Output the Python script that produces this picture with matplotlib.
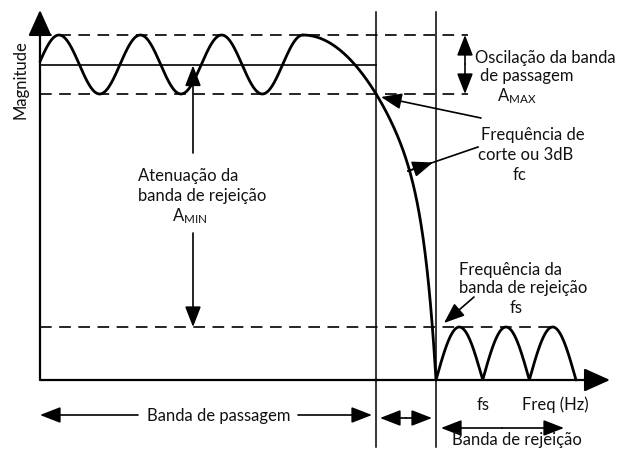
import numpy as np
import matplotlib
matplotlib.use("Agg")
import matplotlib.pyplot as plt

plt.rcParams['font.family'] = ['Lato', 'DejaVu Sans']
plt.rcParams['mathtext.fontset'] = 'custom'
plt.rcParams['mathtext.rm'] = 'Lato'
plt.rcParams['mathtext.it'] = 'Lato'

# ---- schematic data (canvas units, y grows downward) ----
axis_origin = [40, 380]
axis_ends = [610, 10]
level_ripple_top = 35
level_ripple_mid = 64.5
level_ripple_bot = 94
level_stop = 327
ripple_peaks = [59, 140.3, 221.7, 303]
cutoff_x = 376
stop_x = 436
stop_zeros = [436, 483, 529.5, 576]
rolloff_coef = [195, 150]   # quadratic + steep term
dash_ends = [468, 468, 552]

text_color = '#111111'
fs = 12

fig = plt.figure(figsize=(6.19, 4.5), dpi=100)
ax = fig.add_axes([0, 0, 1, 1])
ax.set_xlim(0, 619)
ax.set_ylim(450, 0)
ax.axis('off')

# ---- passband ripple ----
period = (ripple_peaks[-1] - ripple_peaks[0]) / (len(ripple_peaks) - 1)
amp = (level_ripple_bot - level_ripple_top) / 2
x1 = np.linspace(axis_origin[0], ripple_peaks[-1], 400)
y1 = level_ripple_mid - amp * np.cos(2 * np.pi * (x1 - ripple_peaks[0]) / period)
# ---- roll-off ----
x2 = np.linspace(ripple_peaks[-1], stop_x, 400)
t = (x2 - ripple_peaks[-1]) / (stop_x - ripple_peaks[-1])
y2 = level_ripple_top + rolloff_coef[0] * t**2 + rolloff_coef[1] * t**12
# ---- stopband lobes ----
x3 = np.linspace(stop_zeros[0], stop_zeros[-1], 600)
lobe_w = (stop_zeros[-1] - stop_zeros[0]) / (len(stop_zeros) - 1)
y3 = axis_origin[1] - (axis_origin[1] - level_stop) * np.abs(np.sin(np.pi * (x3 - stop_zeros[0]) / lobe_w))

curve_kw = dict(color='black', lw=2.0, solid_capstyle='round')
ax.plot(x1, y1, **curve_kw)
ax.plot(x2, y2, **curve_kw)
ax.plot(x3, y3, **curve_kw)

# ---- reference lines ----
dash_kw = dict(color='black', lw=1.2, dashes=(7, 4.5))
ax.plot([axis_origin[0], dash_ends[0]], [level_ripple_top] * 2, **dash_kw)
ax.plot([axis_origin[0], dash_ends[1]], [level_ripple_bot] * 2, **dash_kw)
ax.plot([axis_origin[0], dash_ends[2]], [level_stop] * 2, **dash_kw)
ax.plot([axis_origin[0], cutoff_x], [level_ripple_mid] * 2, color='black', lw=1.2)
ax.plot([cutoff_x, cutoff_x], [12, 447], color='black', lw=1.1)
ax.plot([stop_x, stop_x], [12, 447], color='black', lw=1.1)

# ---- axes ----
def arrow(p0, p1, style='-|>', lw=1.2, hl=0.9, hw=0.35, ms=14):
    ax.annotate('', xy=p1, xytext=p0,
                arrowprops=dict(arrowstyle=f'{style},head_length={hl},head_width={hw}',
                                lw=lw, color='black', shrinkA=0, shrinkB=0,
                                mutation_scale=ms))

arrow(axis_origin, (axis_origin[0], axis_ends[1]), lw=1.6, hl=1.0, hw=0.45, ms=16)
arrow(axis_origin, (axis_ends[0], axis_origin[1]), lw=1.6, hl=1.0, hw=0.45, ms=16)

# ---- annotation arrows ----
arrow((193, 153), (193, level_ripple_mid + 1))
arrow((193, 233), (193, level_stop))
arrow((465, 64), (465, level_ripple_top), hl=0.9, hw=0.35)
arrow((465, 64), (465, level_ripple_bot), hl=0.9, hw=0.35)
arrow((481, 118), (381, 97))
ax.plot([478, 408], [147, 171], color='black', lw=1.2)
arrow((408, 171), (433, 162.5))
arrow((474, 297), (444, 323))

# bottom band arrows
arrow((138, 415), (40, 415))
arrow((298, 415), (372, 415))
arrow((406, 418), (380, 418))
arrow((406, 418), (432, 418))
arrow((502, 428), (441, 428))
arrow((502, 428), (564, 428))

# ---- texts ----
tk = dict(fontsize=fs, color=text_color)
ax.text(20, 80, 'Magnitude', rotation=90, ha='center', va='center', **tk)
ax.text(138, 176, 'Atenuação da', ha='left', va='center', **tk)
ax.text(138, 196, 'banda de rejeição', ha='left', va='center', **tk)
ax.text(172, 216, r'$\mathrm{A}_{\mathrm{MIN}}$', ha='left', va='center', **tk)
ax.text(475, 58, 'Oscilação da banda', ha='left', va='center', **tk)
ax.text(480, 76, 'de passagem', ha='left', va='center', **tk)
ax.text(497, 96, r'$\mathrm{A}_{\mathrm{MAX}}$', ha='left', va='center', **tk)
ax.text(481, 135, 'Frequência de', ha='left', va='center', **tk)
ax.text(478, 155, 'corte ou 3dB', ha='left', va='center', **tk)
ax.text(520, 175, 'fc', ha='center', va='center', **tk)
ax.text(459, 270, 'Frequência da', ha='left', va='center', **tk)
ax.text(459, 288, 'banda de rejeição', ha='left', va='center', **tk)
ax.text(516, 308, 'fs', ha='center', va='center', **tk)
ax.text(483, 405, 'fs', ha='center', va='center', **tk)
ax.text(555, 405, 'Freq (Hz)', ha='center', va='center', **tk)
ax.text(219, 416, 'Banda de passagem', ha='center', va='center', **tk)
ax.text(517, 440, 'Banda de rejeição', ha='center', va='center', **tk)

fig.savefig('out.png', dpi=100)
